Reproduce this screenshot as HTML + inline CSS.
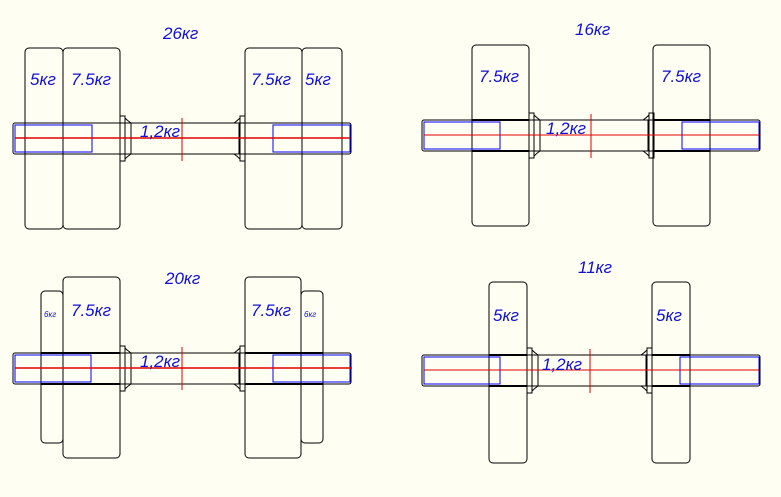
<!DOCTYPE html>
<html><head><meta charset="utf-8"><style>
html,body{margin:0;padding:0;background:#fffef2;}
svg{display:block}
text{font-family:"Liberation Sans",sans-serif;font-style:italic;fill:#1010d8;}
</style></head><body>
<svg width="781" height="497" viewBox="0 0 781 497" xmlns="http://www.w3.org/2000/svg">
<rect width="781" height="497" fill="#fffef2"/>
<defs>
<g id="core">
<path d="M0,-7 h5 v45 h-5 z M5,-5 q3,3 6,5 M5,36 q3,-3 6,-5 M11,0 v31 M119,0 v31 M125,-7 h-5 v45 h5 z M120,-5 q-3,3 -6,5 M120,36 q-3,-3 -6,-5" fill="none" stroke="#000" stroke-width="1"/>
</g>
</defs>

<g fill="none" stroke="#000" stroke-width="1">
<!-- TOP LEFT -->
<rect x="25" y="48" width="38" height="181" rx="4"/>
<rect x="63" y="48" width="57" height="181" rx="4"/>
<rect x="245" y="48" width="57" height="181" rx="4"/>
<rect x="302" y="48" width="40" height="181" rx="4"/>
<rect x="13" y="123" width="338" height="31" rx="2"/>
<use href="#core" x="120" y="123"/>
<rect x="15" y="125" width="77" height="27" stroke="#0000ff"/>
<rect x="273" y="125" width="77" height="27" stroke="#0000ff"/>
<line x1="15" y1="138" x2="350" y2="138" stroke="#e00000" stroke-width="1.5"/>
<line x1="182" y1="118" x2="182" y2="161" stroke="#e00000"/>

<!-- TOP RIGHT -->
<rect x="472" y="45" width="57" height="181" rx="4"/>
<rect x="653" y="45" width="57" height="181" rx="4"/>
<rect x="422" y="120" width="338" height="31" rx="2"/>
<line x1="472" y1="120" x2="529" y2="120" stroke-width="2"/>
<line x1="472" y1="151" x2="529" y2="151" stroke-width="2"/>
<line x1="653" y1="120" x2="710" y2="120" stroke-width="2"/>
<line x1="653" y1="151" x2="710" y2="151" stroke-width="2"/>
<use href="#core" x="529" y="120"/>
<rect x="424" y="122" width="76" height="27" stroke="#0000ff"/>
<rect x="682" y="122" width="77" height="27" stroke="#0000ff"/>
<line x1="424" y1="135" x2="759" y2="135" stroke="#e00000"/>
<line x1="591" y1="114" x2="591" y2="158" stroke="#e00000"/>

<!-- BOTTOM LEFT -->
<rect x="41" y="291" width="22" height="152" rx="4"/>
<rect x="63" y="277" width="57" height="181" rx="4"/>
<rect x="245" y="277" width="56" height="181" rx="4"/>
<rect x="301" y="291" width="22" height="152" rx="4"/>
<rect x="13" y="353" width="338" height="31" rx="2"/>
<line x1="41" y1="353" x2="120" y2="353" stroke-width="2"/>
<line x1="41" y1="384" x2="120" y2="384" stroke-width="2"/>
<line x1="245" y1="353" x2="323" y2="353" stroke-width="2"/>
<line x1="245" y1="384" x2="323" y2="384" stroke-width="2"/>
<use href="#core" x="120" y="353"/>
<rect x="15" y="355" width="76" height="27" stroke="#0000ff"/>
<rect x="273" y="355" width="77" height="27" stroke="#0000ff"/>
<line x1="15" y1="368" x2="352" y2="368" stroke="#e00000" stroke-width="1.5"/>
<line x1="182" y1="347" x2="182" y2="390" stroke="#e00000"/>

<!-- BOTTOM RIGHT -->
<rect x="489" y="282" width="38" height="181" rx="4"/>
<rect x="652" y="282" width="38" height="181" rx="4"/>
<rect x="422" y="355" width="338" height="31" rx="2"/>
<line x1="489" y1="355" x2="527" y2="355" stroke-width="2"/>
<line x1="489" y1="386" x2="527" y2="386" stroke-width="2"/>
<line x1="652" y1="355" x2="690" y2="355" stroke-width="2"/>
<line x1="652" y1="386" x2="690" y2="386" stroke-width="2"/>
<use href="#core" x="527" y="355"/>
<rect x="424" y="357" width="76" height="27" stroke="#0000ff"/>
<rect x="680" y="357" width="79" height="27" stroke="#0000ff"/>
<line x1="424" y1="370" x2="759" y2="370" stroke="#e00000"/>
<line x1="590" y1="349" x2="590" y2="393" stroke="#e00000"/>
</g>

<g font-size="17">
<text x="163" y="39">26кг</text>
<text x="30" y="85">5кг</text>
<text x="71" y="85">7.5кг</text>
<text x="251" y="85">7.5кг</text>
<text x="305" y="85">5кг</text>
<text x="140" y="137">1,2кг</text>

<text x="575" y="35">16кг</text>
<text x="479" y="82">7.5кг</text>
<text x="661" y="82">7.5кг</text>
<text x="546" y="134">1,2кг</text>

<text x="165" y="284">20кг</text>
<text x="71" y="316">7.5кг</text>
<text x="251" y="316">7.5кг</text>
<text x="140" y="367">1,2кг</text>
<text x="44" y="317" font-size="8">6кг</text>
<text x="304" y="317" font-size="8">6кг</text>

<text x="578" y="273">11кг</text>
<text x="493" y="321">5кг</text>
<text x="656" y="321">5кг</text>
<text x="542" y="370">1,2кг</text>
</g>
</svg>
</body></html>
